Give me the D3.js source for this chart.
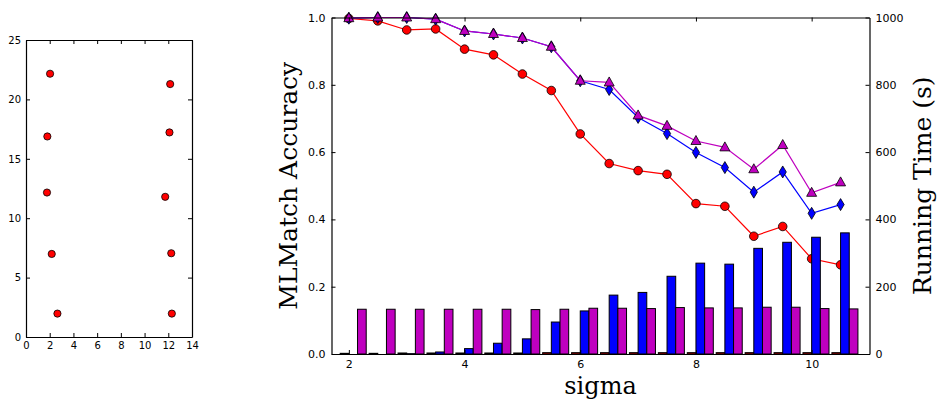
<!DOCTYPE html>
<html>
<head>
<meta charset="utf-8">
<script src="https://cdn.jsdelivr.net/npm/d3@7"></script>
<style>
  body { margin: 0; background: #fff; }
  svg { display: block; }
</style>
</head>
<body>
<div id="chart"></div>
<script>
// left scatter
const scatterX = [2.03, 1.80, 1.77, 2.17, 2.65, 12.16, 12.10, 11.74, 12.25, 12.30];
const scatterY = [22.16, 16.88, 12.16, 6.99, 1.97, 21.29, 17.22, 11.80, 7.05, 1.97];
const scatterXTicks = [0, 2, 4, 6, 8, 10, 12, 14];
const scatterYTicks = [0, 5, 10, 15, 20, 25];

// right chart
const sigma = [2, 2.5, 3, 3.5, 4, 4.5, 5, 5.5, 6, 6.5, 7, 7.5, 8, 8.5, 9, 9.5, 10, 10.5];
const accRed = [0.997, 0.990, 0.963, 0.966, 0.906, 0.889, 0.832, 0.783, 0.654, 0.566,
  0.545, 0.534, 0.447, 0.439, 0.350, 0.379, 0.283, 0.265];
const accBlue = [0.998, 1.0, 1.0, 0.995, 0.960, 0.951, 0.939, 0.913, 0.812, 0.786,
  0.703, 0.655, 0.599, 0.554, 0.481, 0.541, 0.418, 0.444];
const accMagenta = [0.998, 1.0, 1.0, 0.995, 0.960, 0.951, 0.939, 0.913, 0.812, 0.807,
  0.709, 0.678, 0.633, 0.614, 0.549, 0.621, 0.479, 0.510];
const timeRed = [2, 2, 3, 3, 3, 3, 3, 4, 4, 4, 4, 4, 4, 4, 4, 4, 4, 4];
const timeBlue = [0, 0, 1, 6, 16, 32, 45, 95, 128, 175, 183, 231, 270, 267, 314, 332, 347, 360];
const timeMagenta = [133, 133, 133, 133, 133, 133, 132, 133, 136, 136, 135, 138, 137, 137, 139, 139, 135, 134];
const xTicks = [2, 4, 6, 8, 10];
const accTicks = [0, 0.2, 0.4, 0.6, 0.8, 1.0];
const timeTicks = [0, 200, 400, 600, 800, 1000];

const W = 938, H = 401;
const svg = d3.select('#chart').append('svg')
  .attr('width', W).attr('height', H);

const tickFont = 'DejaVu Sans';
const labelFont = 'DejaVu Serif';
const tickLen = 4;

// ---------- left scatter ----------
{
  const sx = d3.scaleLinear().domain([0, 14]).range([26, 192]);
  const sy = d3.scaleLinear().domain([0, 25]).range([337, 40]);
  const g = svg.append('g');

  g.append('g').attr('transform', 'translate(0,' + sy(0) + ')')
    .call(d3.axisBottom(sx).tickValues(scatterXTicks).tickSizeInner(-tickLen).tickSizeOuter(0).tickPadding(5));
  g.append('g').attr('transform', 'translate(0,' + sy(25) + ')')
    .call(d3.axisTop(sx).tickValues(scatterXTicks).tickSizeInner(-tickLen).tickSizeOuter(0).tickFormat(''));
  g.append('g').attr('transform', 'translate(' + sx(0) + ',0)')
    .call(d3.axisLeft(sy).tickValues(scatterYTicks).tickSizeInner(-tickLen).tickSizeOuter(0).tickPadding(5));
  g.append('g').attr('transform', 'translate(' + sx(14) + ',0)')
    .call(d3.axisRight(sy).tickValues(scatterYTicks).tickSizeInner(-tickLen).tickSizeOuter(0).tickFormat(''));
  g.selectAll('.domain').attr('stroke', '#000').attr('stroke-width', 1.2);
  g.selectAll('.tick line').attr('stroke', '#000');
  g.selectAll('.tick text').attr('font-family', tickFont).attr('font-size', 10).attr('fill', '#000');

  g.selectAll('circle.pt')
    .data(scatterX.map((x, i) => ({ x, y: scatterY[i] })))
    .enter().append('circle')
    .attr('cx', d => sx(d.x)).attr('cy', d => sy(d.y))
    .attr('r', 3.6)
    .attr('fill', '#ff0000').attr('stroke', '#000').attr('stroke-width', 0.8);
}

// ---------- right chart ----------
{
  const left = 331.5, right = 869.5, top = 17.5, bottom = 354;
  const x = d3.scaleLinear().domain([1.7, 11]).range([left, right]);
  const yAcc = d3.scaleLinear().domain([0, 1]).range([bottom, top]);
  const yTime = d3.scaleLinear().domain([0, 1000]).range([bottom, top]);
  const g = svg.append('g');

  // lines
  const series = [
    { vals: accRed, color: '#ff0000', marker: 'circle' },
    { vals: accBlue, color: '#0000ff', marker: 'diamond' },
    { vals: accMagenta, color: '#bf00bf', marker: 'triangle' }
  ];
  const line = d3.line().x(d => x(d[0])).y(d => yAcc(d[1]));
  const markerPath = {
    diamond: 'M0,-6L3.6,0L0,6L-3.6,0Z',
    triangle: 'M0,-5.5L5,3.5L-5,3.5Z'
  };
  series.forEach(s => {
    const pts = sigma.map((v, i) => [v, s.vals[i]]);
    g.append('path').datum(pts)
      .attr('d', line).attr('fill', 'none')
      .attr('stroke', s.color).attr('stroke-width', 1.2);
    if (s.marker === 'circle') {
      g.selectAll(null).data(pts).enter().append('circle')
        .attr('cx', d => x(d[0])).attr('cy', d => yAcc(d[1])).attr('r', 4.3)
        .attr('fill', s.color).attr('stroke', '#000').attr('stroke-width', 0.8);
    } else {
      g.selectAll(null).data(pts).enter().append('path')
        .attr('transform', d => 'translate(' + x(d[0]) + ',' + yAcc(d[1]) + ')')
        .attr('d', markerPath[s.marker])
        .attr('fill', s.color).attr('stroke', '#000').attr('stroke-width', 0.8);
    }
  });

  // bars (twin axis, drawn on top)
  const barW = 0.15;
  const bars = [
    { vals: timeRed, color: '#ff0000', off: -barW },
    { vals: timeBlue, color: '#0000ff', off: 0 },
    { vals: timeMagenta, color: '#bf00bf', off: barW }
  ];
  bars.forEach(b => {
    g.selectAll(null).data(sigma.map((v, i) => [v, b.vals[i]])).enter().append('rect')
      .attr('x', d => x(d[0] + b.off))
      .attr('width', x(barW) - x(0))
      .attr('y', d => yTime(d[1]))
      .attr('height', d => yTime(0) - yTime(d[1]))
      .attr('fill', b.color).attr('stroke', '#000').attr('stroke-width', 1);
  });

  // axes
  g.append('g').attr('transform', 'translate(0,' + bottom + ')')
    .call(d3.axisBottom(x).tickValues(xTicks).tickSizeInner(-tickLen).tickSizeOuter(0).tickPadding(6));
  g.append('g').attr('transform', 'translate(0,' + top + ')')
    .call(d3.axisTop(x).tickValues(xTicks).tickSizeInner(-tickLen).tickSizeOuter(0).tickFormat(''));
  g.append('g').attr('transform', 'translate(' + left + ',0)')
    .call(d3.axisLeft(yAcc).tickValues(accTicks).tickFormat(d3.format('.1f')).tickSizeInner(-tickLen).tickSizeOuter(0).tickPadding(6));
  g.append('g').attr('transform', 'translate(' + right + ',0)')
    .call(d3.axisRight(yTime).tickValues(timeTicks).tickFormat(d3.format('d')).tickSizeInner(-tickLen).tickSizeOuter(0).tickPadding(6));
  g.selectAll('.domain').attr('stroke', '#000').attr('stroke-width', 1.2);
  g.selectAll('.tick line').attr('stroke', '#000');
  g.selectAll('.tick text').attr('font-family', tickFont).attr('font-size', 11).attr('fill', '#000');

  // labels
  g.append('text')
    .attr('x', (left + right) / 2).attr('y', 394)
    .attr('text-anchor', 'middle')
    .attr('font-family', labelFont).attr('font-size', 24)
    .text('sigma');
  g.append('text')
    .attr('transform', 'translate(297,' + (top + bottom) / 2 + ')rotate(-90)')
    .attr('text-anchor', 'middle')
    .attr('font-family', labelFont).attr('font-size', 25)
    .text('MLMatch Accuracy');
  g.append('text')
    .attr('transform', 'translate(931,' + (top + bottom) / 2 + ')rotate(-90)')
    .attr('text-anchor', 'middle')
    .attr('font-family', labelFont).attr('font-size', 25)
    .text('Running Time (s)');
}
</script>
</body>
</html>
